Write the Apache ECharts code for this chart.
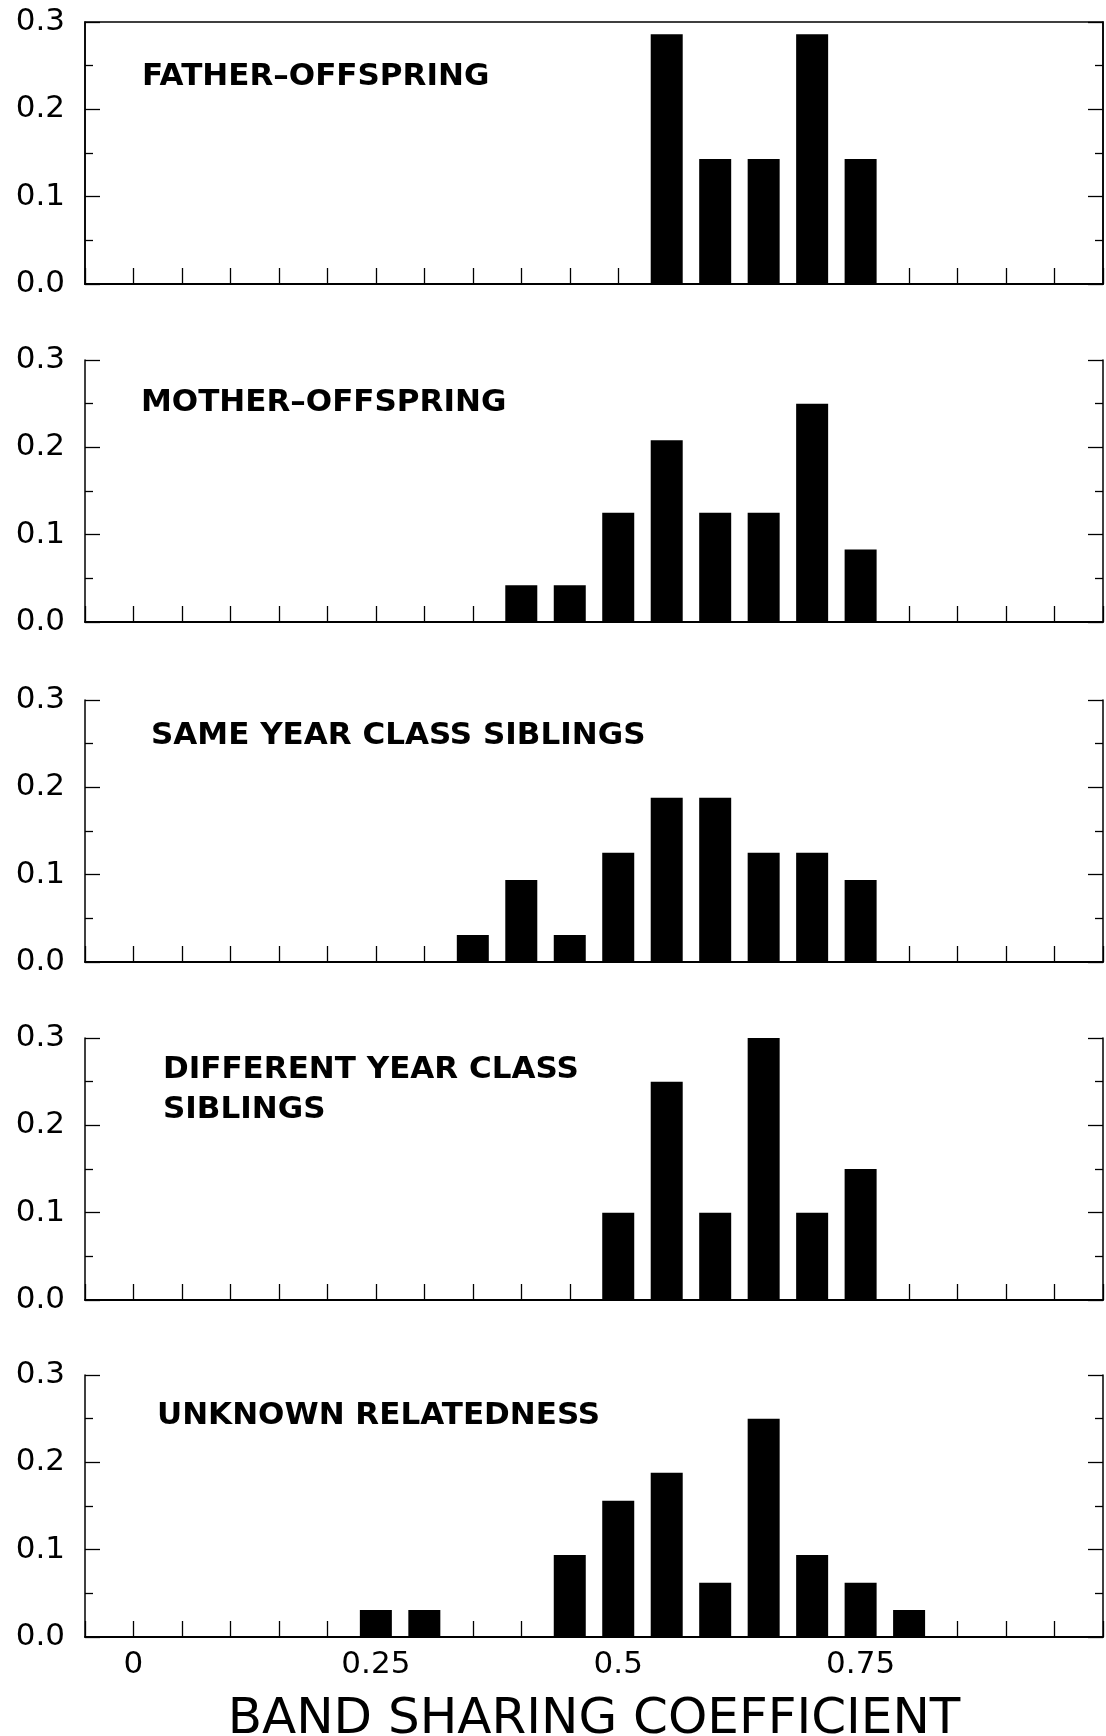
<!DOCTYPE html>
<html>
<head>
<meta charset="utf-8">
<script src="https://cdn.jsdelivr.net/npm/echarts@6/dist/echarts.min.js"></script>
<style>
html,body{margin:0;padding:0;background:#fff;}
#chart{width:1106px;height:1736px;}
</style>
</head>
<body>
<div id="chart"></div>
<script>
// ---- Data (bin centre = band sharing coefficient, value = proportion) ----
const panelTitles = [
  'FATHER\u2013OFFSPRING',
  'MOTHER\u2013OFFSPRING',
  'SAME YEAR CLASS SIBLINGS',
  'DIFFERENT YEAR CLASS\nSIBLINGS',
  'UNKNOWN RELATEDNESS'
];

const fatherBins = [0.55, 0.60, 0.65, 0.70, 0.75];
const fatherVals = [0.286, 0.143, 0.143, 0.286, 0.143];

const motherBins = [0.40, 0.45, 0.50, 0.55, 0.60, 0.65, 0.70, 0.75];
const motherVals = [0.042, 0.042, 0.125, 0.208, 0.125, 0.125, 0.250, 0.083];

const sameYearBins = [0.35, 0.40, 0.45, 0.50, 0.55, 0.60, 0.65, 0.70, 0.75];
const sameYearVals = [0.031, 0.094, 0.031, 0.125, 0.188, 0.188, 0.125, 0.125, 0.094];

const diffYearBins = [0.50, 0.55, 0.60, 0.65, 0.70, 0.75];
const diffYearVals = [0.10, 0.25, 0.10, 0.30, 0.10, 0.15];

const unknownBins = [0.25, 0.30, 0.45, 0.50, 0.55, 0.60, 0.65, 0.70, 0.75, 0.80];
const unknownVals = [0.031, 0.031, 0.094, 0.156, 0.188, 0.062, 0.250, 0.094, 0.062, 0.031];

const xTickValues = [0, 0.25, 0.5, 0.75];
const xTickLabels = ['0', '0.25', '0.5', '0.75'];
const yTickLabels = ['0.0', '0.1', '0.2', '0.3'];
const xAxisTitle = 'BAND SHARING COEFFICIENT';

// ---- Layout ----
const panels = [
  {bins: fatherBins,   vals: fatherVals},
  {bins: motherBins,   vals: motherVals},
  {bins: sameYearBins, vals: sameYearVals},
  {bins: diffYearBins, vals: diffYearVals},
  {bins: unknownBins,  vals: unknownVals}
];
const gridTops = [22, 360, 700, 1038, 1375];
const gridH = 262;
const titlePos = [[142, 77], [141, 403], [151, 736], [163, 1090], [157, 1416]];

const grids = [], xAxes = [], yAxes = [], series = [], graphics = [];
const fontSans = '"DejaVu Sans", "Liberation Sans", sans-serif';

panels.forEach((p, i) => {
  const last = i === panels.length - 1;
  grids.push({
    left: 85, right: 3, top: gridTops[i], height: gridH,
    outerBoundsMode: 'none', containLabel: false,
    show: i === 0, borderColor: '#000', borderWidth: 1.5, backgroundColor: 'transparent'
  });
  xAxes.push({
    type: 'value', gridIndex: i, min: -0.05, max: 1.0, interval: 0.05,
    axisLine: {show: true, onZero: false, lineStyle: {color: '#000', width: 2}},
    axisTick: {show: true, inside: true, length: 16, lineStyle: {color: '#000', width: 1.3}},
    splitLine: {show: false},
    axisLabel: {
      show: last, margin: 12, color: '#000', fontSize: 31, fontFamily: fontSans,
      formatter: v => {
        const k = xTickValues.findIndex(t => Math.abs(t - v) < 1e-6);
        return k >= 0 ? xTickLabels[k] : '';
      }
    },
    name: last ? xAxisTitle : '',
    nameLocation: 'middle', nameGap: 58,
    nameTextStyle: {color: '#000', fontSize: 50, fontFamily: fontSans}
  });
  yAxes.push({
    type: 'value', gridIndex: i, min: 0, max: 0.3, interval: 0.1, position: 'left',
    axisLine: {show: true, onZero: false, lineStyle: {color: '#000', width: 1.5}},
    axisTick: {show: true, inside: true, length: 15, lineStyle: {color: '#000', width: 1.3}},
    minorTick: {show: true, splitNumber: 2, length: 8, lineStyle: {color: '#000', width: 1.3}},
    splitLine: {show: false},
    axisLabel: {
      margin: 20, color: '#000', fontSize: 31, fontFamily: fontSans,
      formatter: v => yTickLabels[Math.round(v * 10)]
    }
  });
  yAxes.push({
    type: 'value', gridIndex: i, min: 0, max: 0.3, interval: 0.1, position: 'right',
    axisLine: {show: true, onZero: false, lineStyle: {color: '#000', width: 1.5}},
    axisTick: {show: true, inside: true, length: 15, lineStyle: {color: '#000', width: 1.3}},
    minorTick: {show: true, splitNumber: 2, length: 8, lineStyle: {color: '#000', width: 1.3}},
    splitLine: {show: false},
    axisLabel: {show: false}
  });
  series.push({
    type: 'bar', xAxisIndex: i, yAxisIndex: 2 * i,
    barWidth: 32, itemStyle: {color: '#000'},
    data: p.bins.map((b, k) => [b, p.vals[k]]),
    animation: false, z: 3
  });
  graphics.push({
    type: 'text', x: titlePos[i][0], y: titlePos[i][1], z: 10,
    style: {
      text: panelTitles[i], fill: '#000',
      font: 'bold 31px ' + fontSans,
      lineHeight: 40, verticalAlign: 'middle', align: 'left'
    }
  });
});

const chart = echarts.init(document.getElementById('chart'), null, {renderer: 'canvas'});
chart.setOption({
  backgroundColor: '#fff',
  animation: false,
  grid: grids,
  xAxis: xAxes,
  yAxis: yAxes,
  series: series,
  graphic: graphics
});
</script>
</body>
</html>
